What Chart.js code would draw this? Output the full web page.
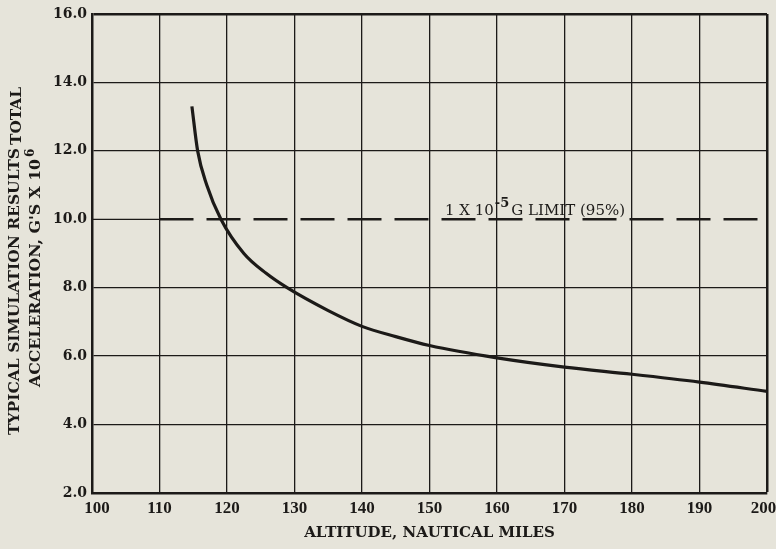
<!DOCTYPE html>
<html>
<head>
<meta charset="utf-8">
<script src="https://cdn.jsdelivr.net/npm/chart.js@4.4.1/dist/chart.umd.min.js"></script>
<style>
  html, body { margin: 0; padding: 0; background: #e6e4da; }
  #wrap { width: 776px; height: 549px; }
</style>
</head>
<body>
<div id="wrap"><canvas id="chart"></canvas></div>
<script>
// altitude (nautical miles) vs total acceleration (G's x 10^6)
const altitude     = [114.8, 115.65, 117.0, 119.1, 122.5, 125.8, 128.9, 135.0, 140, 145, 150, 160, 170, 180, 190, 200];
const acceleration = [13.3, 12.0, 11.0, 10.0, 9.0, 8.42, 8.0, 7.33, 6.87, 6.57, 6.31, 5.95, 5.68, 5.47, 5.24, 4.97];

// the 1 x 10^-5 G limit line (first stretch is just the plain grid line)
const limitAltitude = [100, 110, 200];
const limitValue = 10;
const limitLabel = ['1 X 10', '-5', 'G LIMIT (95%)'];
const limitLabelAt = 152.3;

const xTicks = [100, 110, 120, 130, 140, 150, 160, 170, 180, 190, 200];
const yTicks = [2, 4, 6, 8, 10, 12, 14, 16];
const xTitle = 'ALTITUDE, NAUTICAL MILES';
const yTitle = ['TYPICAL SIMULATION RESULTS', 'TOTAL', 'ACCELERATION, G\'S X 10', '6'];

const ink = '#1c1a18';
const paper = '#e6e4da';

const paperBg = {
    id: 'paperBg',
    beforeDraw(chart) {
        const ctx = chart.ctx;
        ctx.save();
        ctx.fillStyle = paper;
        ctx.fillRect(0, 0, chart.width, chart.height);
        ctx.restore();
    }
};

// stretch a string to a given length
function fitText(ctx, text, x, y, width) {
    const w = ctx.measureText(text).width;
    ctx.save();
    ctx.translate(x, y);
    ctx.scale(width / w, 1);
    ctx.fillText(text, 0, 0);
    ctx.restore();
}

// rotated y title and the label over the limit line
const extraText = {
    id: 'extraText',
    afterDraw(chart) {
        const ctx = chart.ctx;
        const xs = chart.scales.x, ys = chart.scales.y;
        ctx.save();
        ctx.fillStyle = ink;
        ctx.textAlign = 'left';
        ctx.textBaseline = 'alphabetic';

        // y title, reading bottom to top
        ctx.save();
        ctx.translate(19, 435);
        ctx.rotate(-Math.PI / 2);
        ctx.font = 'bold 15px "DejaVu Serif"';
        fitText(ctx, yTitle[0], 0, 0, 287);
        fitText(ctx, yTitle[1], 290, 2, 58);
        ctx.restore();

        ctx.save();
        ctx.translate(40, 387);
        ctx.rotate(-Math.PI / 2);
        ctx.font = 'bold 15px "DejaVu Serif"';
        fitText(ctx, yTitle[2], 0, 0, 228);
        ctx.font = 'bold 12px "DejaVu Serif"';
        ctx.fillText(yTitle[3], 230, -6);
        ctx.restore();

        // limit label
        const lx = xs.getPixelForValue(limitLabelAt);
        const ly = ys.getPixelForValue(limitValue) - 4;
        ctx.font = '15px "DejaVu Serif"';
        ctx.fillText(limitLabel[0], lx, ly);
        const w0 = ctx.measureText(limitLabel[0]).width;
        ctx.font = 'bold 13px "DejaVu Serif"';
        ctx.fillText(limitLabel[1], lx + w0 + 1, ly - 8);
        const w1 = ctx.measureText(limitLabel[1]).width;
        ctx.font = '15px "DejaVu Serif"';
        ctx.fillText(limitLabel[2], lx + w0 + w1 + 3, ly);
        ctx.restore();
    }
};

const curve = altitude.map((x, i) => ({ x: x, y: acceleration[i] }));
const limit = limitAltitude.map(x => ({ x: x, y: limitValue }));

new Chart(document.getElementById('chart'), {
    type: 'line',
    data: {
        datasets: [{
            data: curve,
            borderColor: ink,
            borderWidth: 3.2,
            pointRadius: 0,
            cubicInterpolationMode: 'monotone',
            fill: false
        }, {
            data: limit,
            borderColor: ink,
            borderWidth: 2.5,
            pointRadius: 0,
            fill: false,
            segment: {
                borderDash: ctx => ctx.p0DataIndex === 0 ? [] : [34, 13],
                borderWidth: ctx => ctx.p0DataIndex === 0 ? 1.3 : 2.5
            }
        }]
    },
    options: {
        responsive: true,
        maintainAspectRatio: false,
        animation: false,
        layout: { padding: { left: 0, top: 14, right: 9, bottom: 0 } },
        plugins: {
            legend: { display: false },
            tooltip: { enabled: false }
        },
        scales: {
            x: {
                type: 'linear',
                min: 100,
                max: 200,
                afterBuildTicks: s => { s.ticks = xTicks.map(v => ({ value: v })); },
                afterFit: s => { s.height = 56; s.paddingLeft = 0; s.paddingRight = 0; },
                ticks: {
                    color: ink,
                    padding: 5,
                    // nudge the end labels inward like the print
                    callback: v => v === 100 ? '\u2009\u2009\u2009100' : (v === 200 ? '200\u2009\u2009' : String(v)),
                    font: { family: '"Liberation Serif"', size: 17, weight: 'bold' }
                },
                grid: {
                    color: ink,
                    drawTicks: false,
                    lineWidth: c => (c.tick && c.tick.value === 200) ? 2.5 : 1.3
                },
                border: { display: true, color: ink, width: 2.5 },
                title: {
                    display: true,
                    text: xTitle,
                    color: ink,
                    padding: { top: 4, bottom: 7 },
                    font: { family: '"DejaVu Serif"', size: 15, weight: 'bold' }
                }
            },
            y: {
                type: 'linear',
                min: 2,
                max: 16,
                afterBuildTicks: s => { s.ticks = yTicks.map(v => ({ value: v })); },
                afterFit: s => { s.width = 92; s.paddingTop = 0; s.paddingBottom = 0; },
                ticks: {
                    color: ink,
                    padding: 5,
                    callback: v => v.toFixed(1),
                    font: { family: '"DejaVu Serif"', size: 14, weight: 'bold' }
                },
                grid: {
                    drawTicks: false,
                    color: c => (c.tick && c.tick.value === limitValue) ? 'rgba(0,0,0,0)' : ink,
                    lineWidth: c => (c.tick && c.tick.value === 16) ? 2.5 : 1.3
                },
                border: { display: true, color: ink, width: 2.5 }
            }
        }
    },
    plugins: [paperBg, extraText]
});
</script>
</body>
</html>
